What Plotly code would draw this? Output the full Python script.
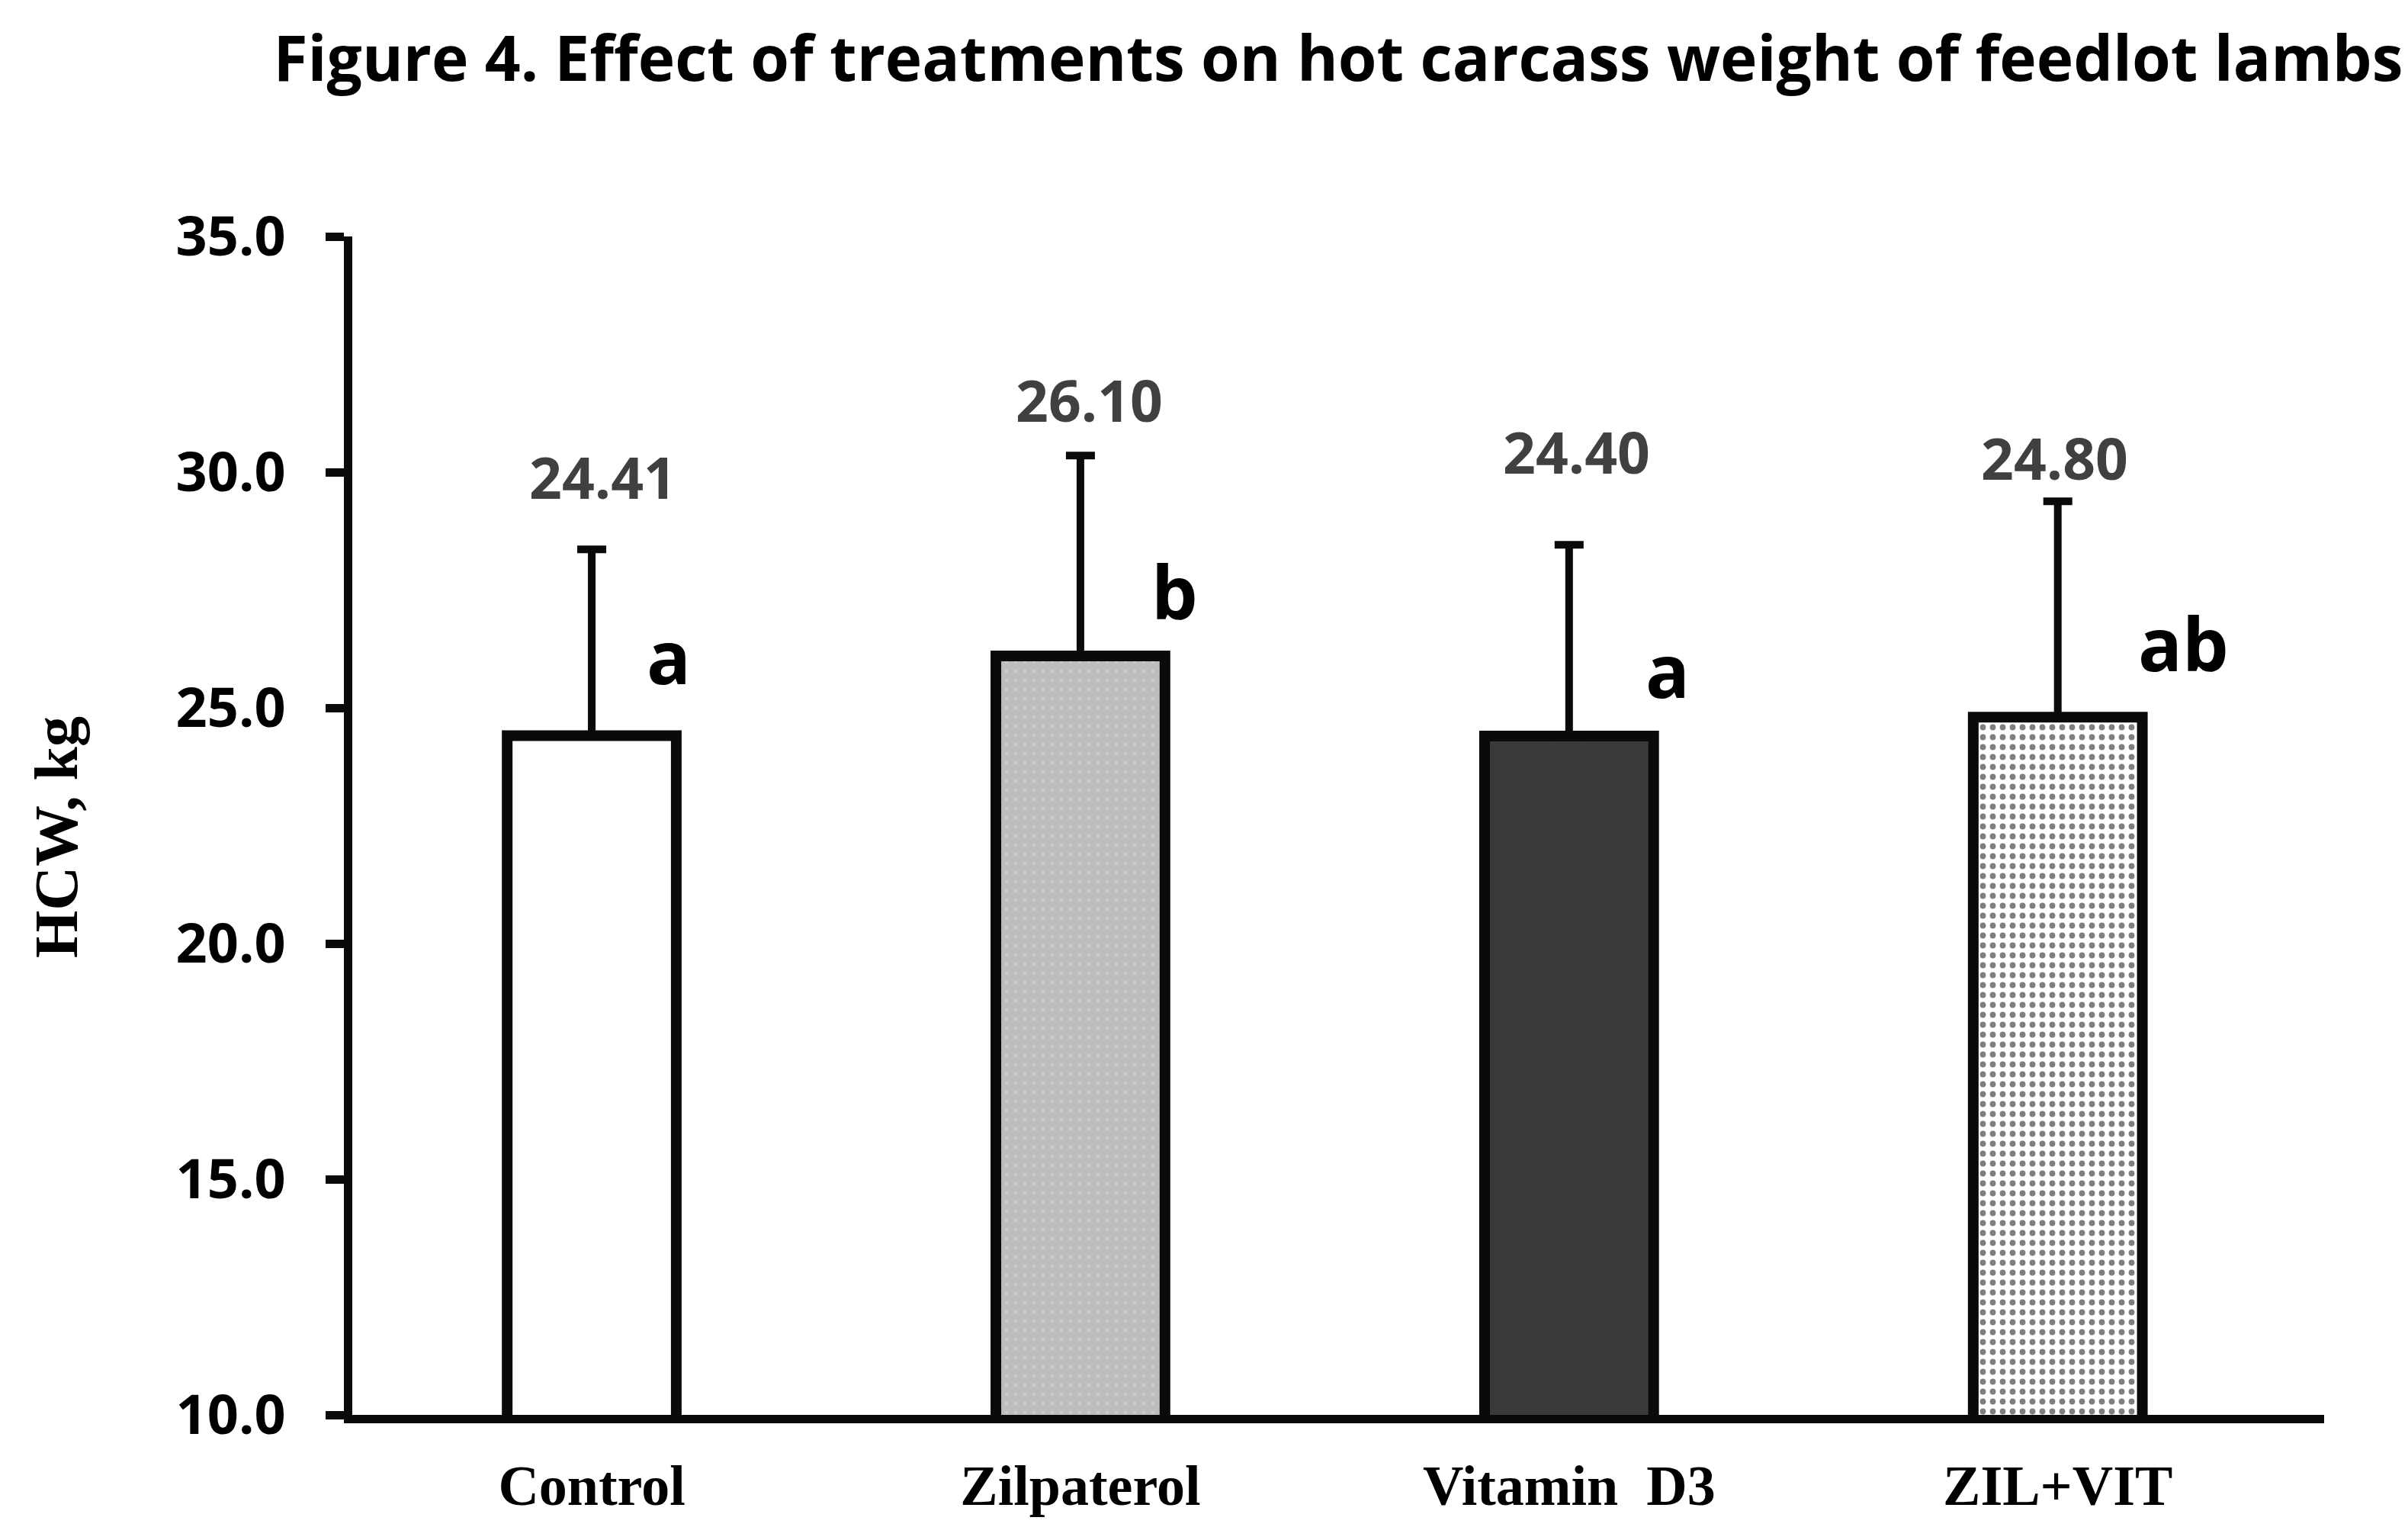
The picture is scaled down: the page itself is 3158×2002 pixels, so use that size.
import plotly.graph_objects as go

# values
treatments = ["Control", "Zilpaterol", "Vitamin\u00a0 D3", "ZIL+VIT"]
hcw_means = [24.41, 26.10, 24.40, 24.80]
hcw_sd = [3.95, 4.25, 4.06, 4.58]
value_labels = ["24.41", "26.10", "24.40", "24.80"]
letters = ["a", "b", "a", "ab"]
y_ticks = [10, 15, 20, 25, 30, 35]

# fill style of each bar
fills = ["white", "#bdbdbd", "#3a3a3a", "white"]
dot_shape = ["", ".", "", "."]
dot_color = ["white", "#dadada", "#3a3a3a", "black"]
dot_size = [10, 12, 10, 13]
dot_solid = [0.1, 0.12, 0.1, 0.28]

fig = go.Figure()

# one trace per bar so every bar gets its own fill pattern
for i in range(len(treatments)):
    fig.add_trace(go.Bar(
        x=[treatments[i]],
        y=[hcw_means[i]],
        marker=dict(
            color=fills[i],
            line=dict(color="#0a0a0a", width=14),
            pattern=dict(shape=dot_shape[i], fgcolor=dot_color[i],
                         size=dot_size[i], solidity=dot_solid[i],
                         fillmode="overlay"),
        ),
        error_y=dict(type="data", symmetric=False, array=[hcw_sd[i]],
                     arrayminus=[0], color="#0a0a0a", thickness=10, width=19),
        width=0.346,
        showlegend=False,
    ))

# mean labels above the error bars (pixel nudges to match original placement)
label_dx = [14, 12, 10, -4]
label_shift = [95, 73, 122, 57]
for t, m, s, lab, dx, dy in zip(treatments, hcw_means, hcw_sd, value_labels, label_dx, label_shift):
    fig.add_annotation(x=t, y=m + s, text=lab, showarrow=False,
                       yanchor="middle", xshift=dx, yshift=dy,
                       font=dict(family="Open Sans", size=75, color="#404040", weight="bold"))

# significance letters
letter_dx = [70, 91, 98, 103]
letter_dy = [105, 86, 88, 98]
for t, m, lt, dx, dy in zip(treatments, hcw_means, letters, letter_dx, letter_dy):
    fig.add_annotation(x=t, y=m, text=lt, showarrow=False,
                       xanchor="left", yanchor="middle", xshift=dx, yshift=dy,
                       font=dict(family="Open Sans", size=96, color="black", weight="bold"))

# y axis title
fig.add_annotation(text="HCW, kg", xref="paper", yref="paper",
                   x=-0.150, y=0.49, textangle=-90, showarrow=False,
                   xanchor="center", yanchor="middle",
                   font=dict(family="Liberation Serif", size=80, color="black", weight="bold"))

fig.update_layout(
    width=3158, height=2002,
    paper_bgcolor="white", plot_bgcolor="white",
    margin=dict(l=454, r=118, t=302, b=155),
    title=dict(text="<b>Figure 4. Effect of treatments on hot carcass weight of feedlot lambs</b>",
               x=0.5, xref="paper", xanchor="center",
               y=1 - 69 / 2002, yref="container", yanchor="middle",
               font=dict(family="Open Sans", size=82, color="black")),
    barmode="overlay",
)

fig.update_xaxes(
    range=[-0.49, 3.545], automargin=False,
    showline=True, linecolor="#0a0a0a", linewidth=11,
    ticks="", showgrid=False, zeroline=False,
    ticklabelstandoff=18,
    tickfont=dict(family="Liberation Serif", size=74, color="black", weight="bold"),
)

fig.update_yaxes(
    range=[10, 35], tickvals=y_ticks, automargin=False,
    ticktext=[f"{v:.1f}" for v in y_ticks],
    showline=True, linecolor="#0a0a0a", linewidth=11,
    ticks="outside", ticklen=24, tickwidth=11, tickcolor="#0a0a0a",
    ticklabelstandoff=38,
    showgrid=False, zeroline=False,
    tickfont=dict(family="Open Sans", size=72, color="black", weight="bold"),
)

fig.write_html("out.html")
